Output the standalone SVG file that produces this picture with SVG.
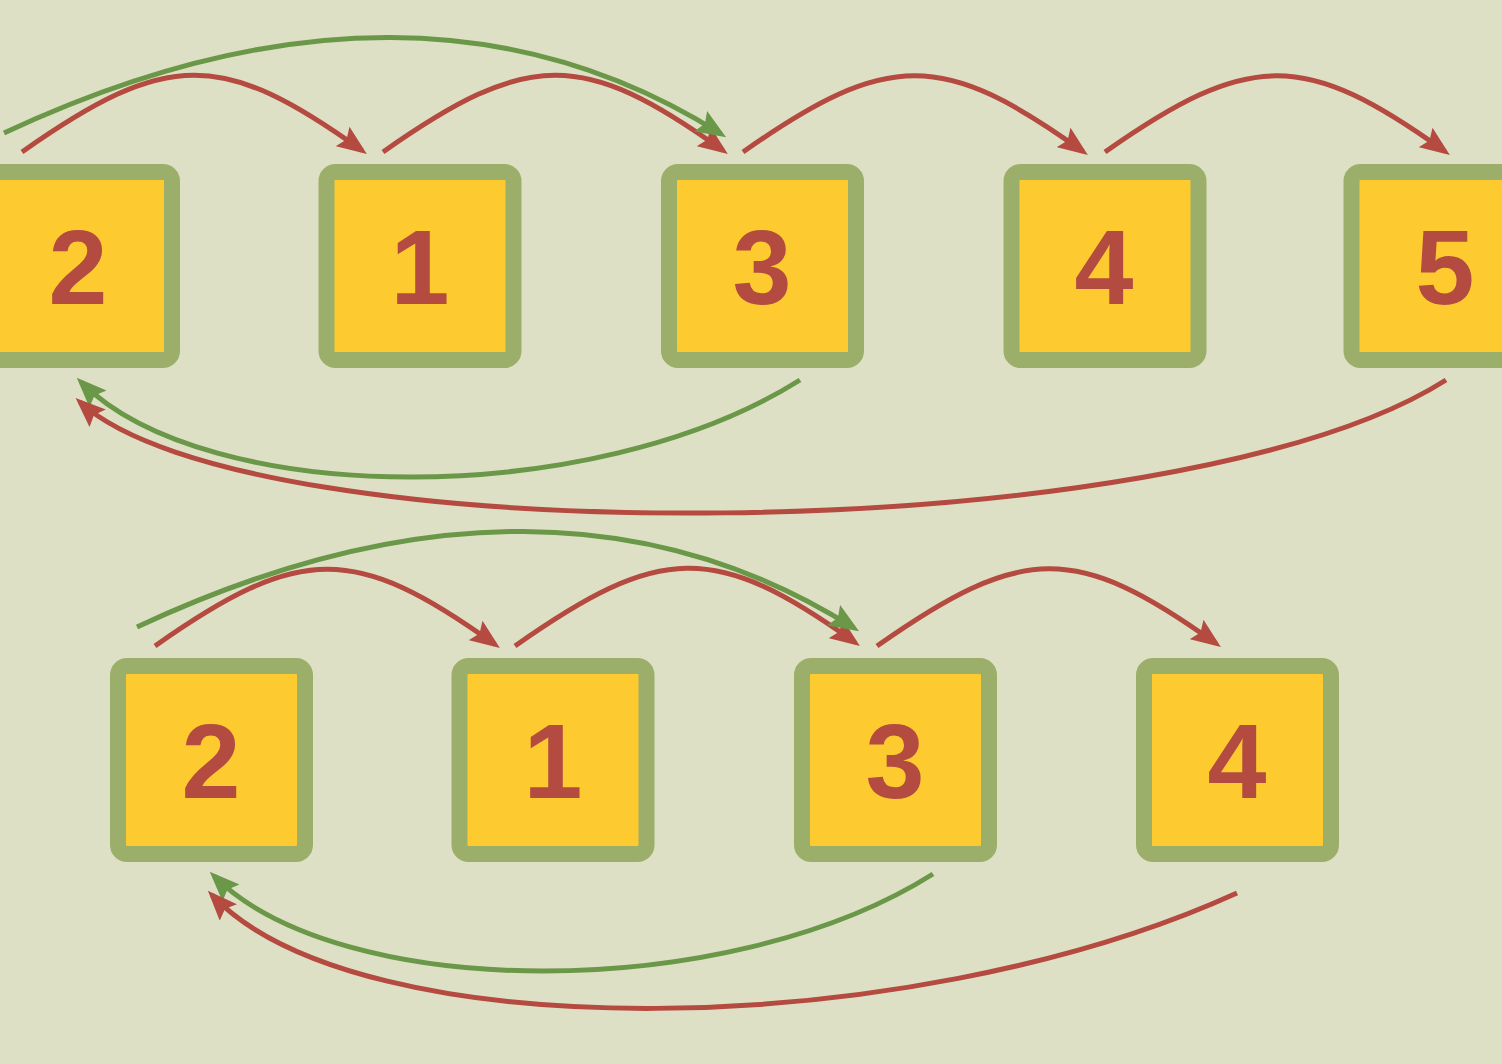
<svg xmlns="http://www.w3.org/2000/svg" width="1502" height="1064" viewBox="0 0 1502 1064">
<style>
.box{fill:#fdcb30;stroke:#9caf6a;stroke-width:16}
.lbl{font-family:"Liberation Sans",Arial,sans-serif;font-weight:bold;font-size:106px;fill:#b34b40;text-anchor:middle}
.r{fill:none;stroke:#b44a40;stroke-width:5}
.g{fill:none;stroke:#6a9848;stroke-width:5}
</style>
<defs>
<marker id="ar" markerUnits="userSpaceOnUse" markerWidth="30" markerHeight="24" viewBox="0 0 30 24" refX="24" refY="12" orient="auto"><path d="M0,0 L30,12 L0,24 L5,12 z" fill="#b44a40"/></marker>
<marker id="ag" markerUnits="userSpaceOnUse" markerWidth="30" markerHeight="24" viewBox="0 0 30 24" refX="24" refY="12" orient="auto"><path d="M0,0 L30,12 L0,24 L5,12 z" fill="#6a9848"/></marker>
</defs>
<rect x="0" y="0" width="1502" height="1064" fill="#dee0c5"/>
<g id="top-2"><rect class="box" x="-15" y="172" width="187" height="188" rx="9"/><text class="lbl" x="78" y="304">2</text></g>
<g id="top-1"><rect class="box" x="326.5" y="172" width="187" height="188" rx="9"/><text class="lbl" x="420" y="304">1</text></g>
<g id="top-3"><rect class="box" x="669" y="172" width="187" height="188" rx="9"/><text class="lbl" x="762" y="304">3</text></g>
<g id="top-4"><rect class="box" x="1011.5" y="172" width="187" height="188" rx="9"/><text class="lbl" x="1104" y="304">4</text></g>
<g id="top-5"><rect class="box" x="1351.5" y="172" width="187" height="188" rx="9"/><text class="lbl" x="1445" y="304">5</text></g>
<g id="bot-2"><rect class="box" x="118" y="666" width="187" height="188" rx="9"/><text class="lbl" x="211" y="798">2</text></g>
<g id="bot-1"><rect class="box" x="459.5" y="666" width="187" height="188" rx="9"/><text class="lbl" x="553" y="798">1</text></g>
<g id="bot-3"><rect class="box" x="802" y="666" width="187" height="188" rx="9"/><text class="lbl" x="895" y="798">3</text></g>
<g id="bot-4"><rect class="box" x="1144" y="666" width="187" height="188" rx="9"/><text class="lbl" x="1237" y="798">4</text></g>
<g id="connectors">
<path class="r" marker-end="url(#ar)" d="M22,152 C167,50 222,50 362,150.5"/>
<path class="r" marker-end="url(#ar)" d="M383,152 C528,50 583,50 723,150.5"/>
<path class="r" marker-end="url(#ar)" d="M743,152 C888,50 943,51 1083,151.5"/>
<path class="r" marker-end="url(#ar)" d="M1105,152 C1250,50 1305,51 1445,151.5"/>
<path class="g" marker-end="url(#ag)" d="M4,133 C280,4 520,7 721,134"/>
<path class="g" marker-end="url(#ag)" d="M800,380 C594,510 207,508 81,382"/>
<path class="r" marker-end="url(#ar)" d="M1446,380 C1176,552 246,555 80,402"/>
<path class="r" marker-end="url(#ar)" d="M155,646 C300,544 355,544 495,644.5"/>
<path class="r" marker-end="url(#ar)" d="M515,646 C660,544 715,542 855,642.5"/>
<path class="r" marker-end="url(#ar)" d="M877,646 C1022,544 1076,543 1216,643.5"/>
<path class="g" marker-end="url(#ag)" d="M137,627 C413,498 653,501 854,628"/>
<path class="g" marker-end="url(#ag)" d="M933,874 C727,1004 340,1002 214,876"/>
<path class="r" marker-end="url(#ar)" d="M1237,893 C907,1043 358,1050 212,895"/>
</g>
</svg>
